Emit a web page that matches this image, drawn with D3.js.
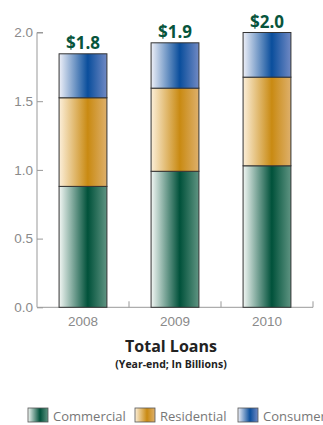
<!DOCTYPE html>
<html>
<head>
<meta charset="utf-8">
<script src="https://d3js.org/d3.v7.min.js"></script>
<style>
  body { margin: 0; background: #fff; }
  svg { display: block; font-family: "Open Sans", "DejaVu Sans", sans-serif; }
</style>
</head>
<body>
<svg id="chart" width="323" height="425"></svg>
<script>
// Data (in billions)
const years = ["2008", "2009", "2010"];
const commercial = [0.88, 0.99, 1.03];
const residential = [0.645, 0.605, 0.645];
const consumer = [0.32, 0.33, 0.325];
const totalLabels = ["$1.8", "$1.9", "$2.0"];
const yTicks = [0, 0.5, 1.0, 1.5, 2.0];

const seriesNames = ["Commercial", "Residential", "Consumer"];
const seriesValues = [commercial, residential, consumer];

// gradient stops: light left, dark ~60%, medium right
const gradColors = {
    Commercial: ["#f2f7f4", "#00513a", "#5f9482"],
    Residential: ["#fcefd9", "#c98a12", "#deb06c"],
    Consumer: ["#eef0f8", "#0a4e9c", "#7089c4"]
};

const svg = d3.select("#chart");

const x = d3.scaleBand().domain(years).range([37, 313]).paddingInner(0.48).paddingOuter(0.24);
const y = d3.scaleLinear().domain([0, 2]).range([307.3, 32.5]);

// Gradients
const defs = svg.append("defs");
seriesNames.forEach(name => {
    const g = defs.append("linearGradient")
        .attr("id", "grad-" + name)
        .attr("x1", "0%").attr("x2", "100%").attr("y1", "0%").attr("y2", "0%");
    g.append("stop").attr("offset", "0%").attr("stop-color", gradColors[name][0]);
    g.append("stop").attr("offset", "60%").attr("stop-color", gradColors[name][1]);
    g.append("stop").attr("offset", "100%").attr("stop-color", gradColors[name][2]);
});

// Stack data
const rows = years.map((yr, i) => {
    const r = { year: yr };
    seriesNames.forEach((s, j) => r[s] = seriesValues[j][i]);
    return r;
});
const stacked = d3.stack().keys(seriesNames)(rows);

// Y axis
const yAxis = svg.append("g")
    .attr("transform", "translate(37,0)")
    .call(d3.axisRight(y).tickValues(yTicks).tickFormat(d3.format(".1f")).tickSize(6).tickPadding(0));
yAxis.select(".domain").attr("stroke", "#999").attr("d", `M6,${y(2)}H0V${y(0)}`);
yAxis.selectAll(".tick line").attr("stroke", "#999");
yAxis.selectAll(".tick text")
    .attr("x", -4)
    .attr("text-anchor", "end")
    .attr("fill", "#8a8a8a")
    .style("font-size", "13.5px");

// X axis
const xAxis = svg.append("g")
    .attr("transform", `translate(0,${y(0)})`)
    .call(d3.axisBottom(x).tickSize(0).tickPadding(9));
xAxis.select(".domain").attr("stroke", "#999").attr("d", `M37,0H313`);
xAxis.selectAll(".tick text").attr("fill", "#8a8a8a").style("font-size", "13.5px");
// separator ticks between groups
const sepTicks = [x("2009") - x.step() * x.paddingInner() / 2, x("2010") - x.step() * x.paddingInner() / 2, 313];
svg.append("g").selectAll("line")
    .data(sepTicks)
    .enter()
    .append("line")
    .attr("x1", d => d).attr("x2", d => d)
    .attr("y1", y(0)).attr("y2", y(0) - 6)
    .attr("stroke", "#999");

// Bars
svg.append("g").selectAll("g")
    .data(stacked)
    .enter()
    .append("g")
    .attr("fill", d => `url(#grad-${d.key})`)
    .selectAll("rect")
    .data(d => d)
    .enter()
    .append("rect")
    .attr("x", d => x(d.data.year))
    .attr("width", x.bandwidth())
    .attr("y", d => y(d[1]))
    .attr("height", d => y(d[0]) - y(d[1]))
    .attr("stroke", "#333")
    .attr("stroke-width", 1);

// Total labels
svg.append("g").selectAll("text")
    .data(years)
    .enter()
    .append("text")
    .attr("x", d => x(d) + x.bandwidth() / 2)
    .attr("y", (d, i) => y(commercial[i] + residential[i] + consumer[i]) - 5)
    .attr("text-anchor", "middle")
    .attr("fill", "#07553c")
    .style("font-size", "17px")
    .style("font-weight", "bold")
    .text((d, i) => totalLabels[i]);

// Titles
svg.append("text")
    .attr("x", 171).attr("y", 351.5)
    .attr("text-anchor", "middle")
    .attr("fill", "#222")
    .style("font-size", "16px")
    .style("font-weight", "bold")
    .text("Total Loans");
svg.append("text")
    .attr("x", 171).attr("y", 367.5)
    .attr("text-anchor", "middle")
    .attr("fill", "#222")
    .style("font-size", "10.5px")
    .style("font-weight", "bold")
    .text("(Year-end; In Billions)");

// Legend
const legendX = [28, 135, 238];
const legend = svg.append("g").selectAll("g")
    .data(seriesNames)
    .enter()
    .append("g")
    .attr("transform", (d, i) => `translate(${legendX[i]},408)`);
legend.append("rect")
    .attr("width", 20).attr("height", 14)
    .attr("fill", d => `url(#grad-${d})`)
    .attr("stroke", "#555").attr("stroke-width", 0.8);
legend.append("text")
    .attr("x", 25).attr("y", 12.5)
    .attr("fill", "#777")
    .style("font-size", "13px")
    .text(d => d);
</script>
</body>
</html>
